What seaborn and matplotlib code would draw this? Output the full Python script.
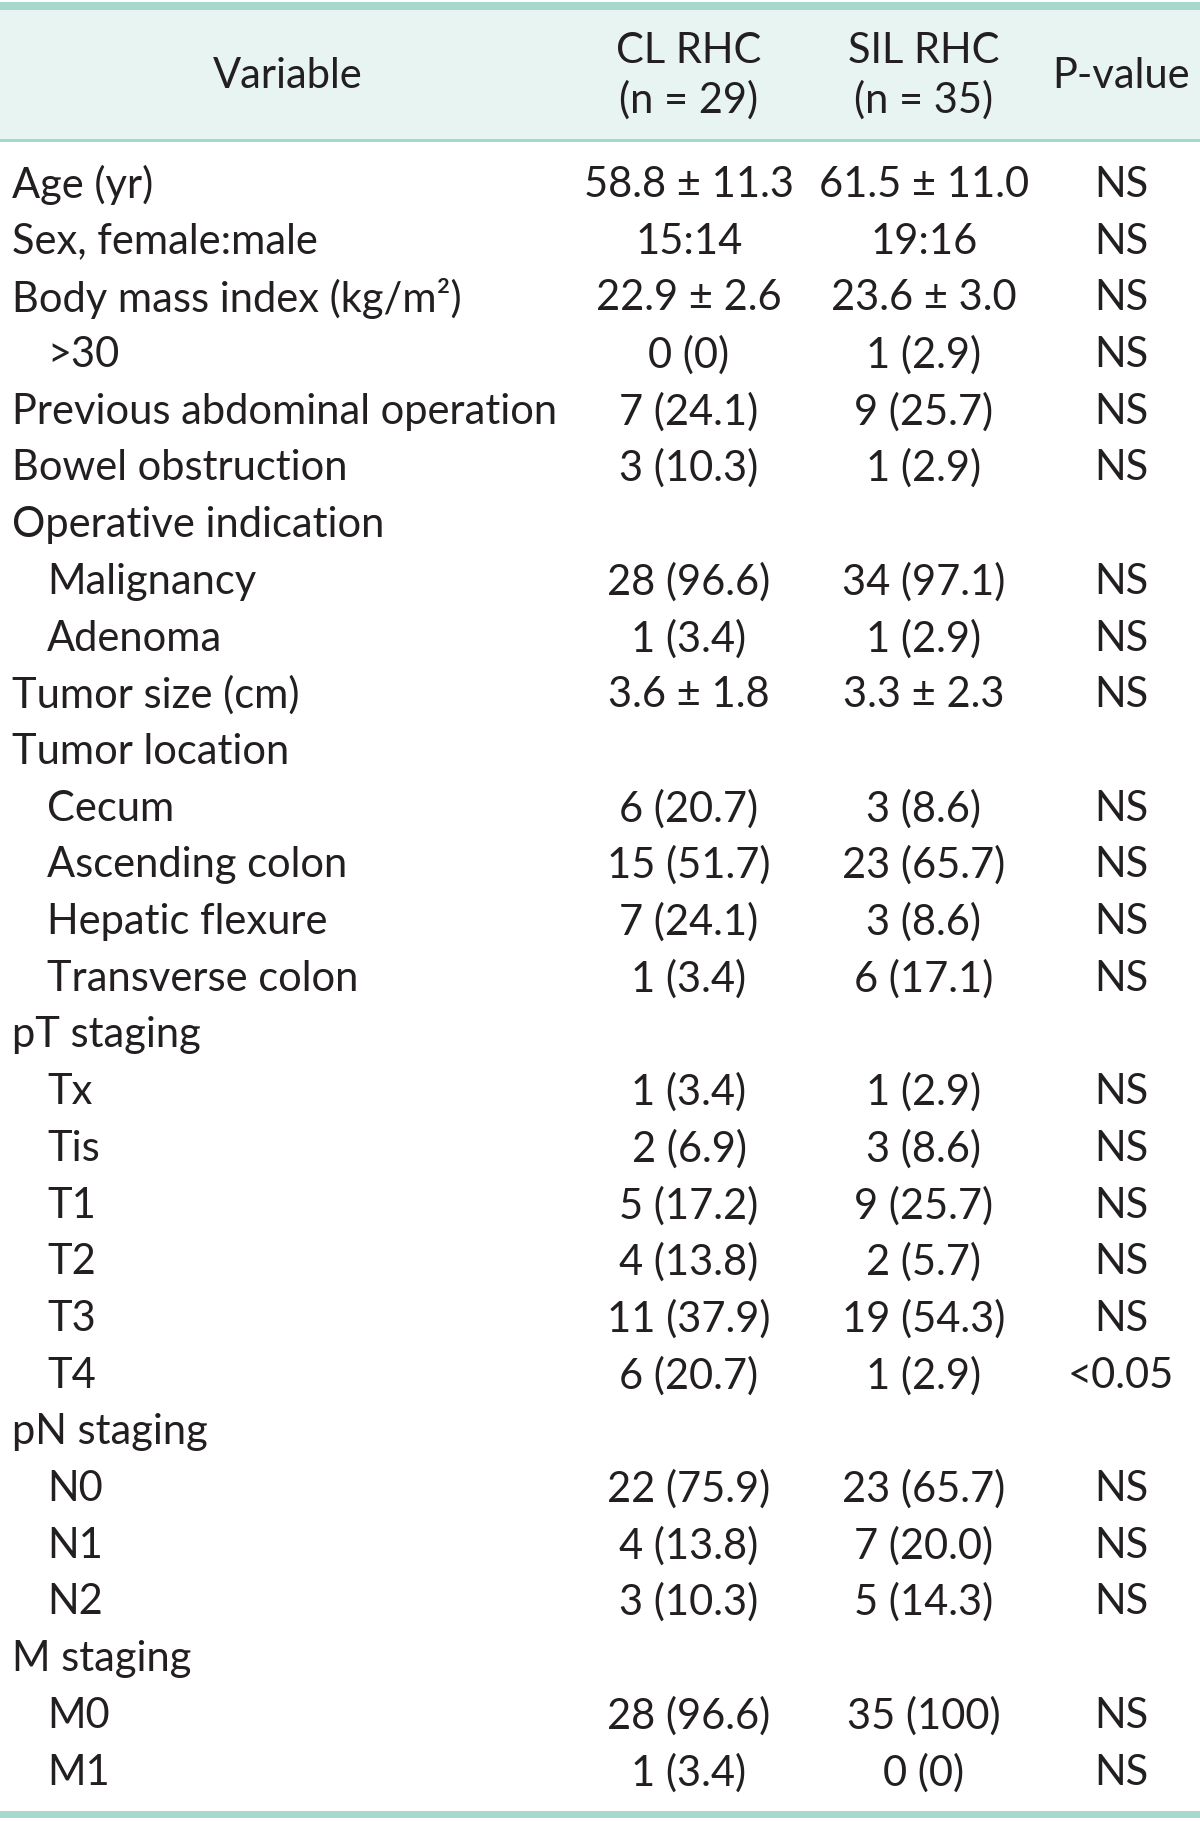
import matplotlib
matplotlib.use("Agg")
import matplotlib.pyplot as plt
import seaborn as sns

sns.set_theme(style="white")
plt.rcParams["font.family"] = ["Lato", "DejaVu Sans"]

# ==========================================
# table data
# ==========================================
headers = ["Variable", "CL RHC\n(n = 29)", "SIL RHC\n(n = 35)", "P-value"]

variables = [
    "Age (yr)", "Sex, female:male", "Body mass index (kg/m²)", ">30",
    "Previous abdominal operation", "Bowel obstruction", "Operative indication",
    "Malignancy", "Adenoma", "Tumor size (cm)", "Tumor location",
    "Cecum", "Ascending colon", "Hepatic flexure", "Transverse colon",
    "pT staging", "Tx", "Tis", "T1", "T2", "T3", "T4",
    "pN staging", "N0", "N1", "N2", "M staging", "M0", "M1",
]
indented = [
    False, False, False, True, False, False, False, True, True, False, False,
    True, True, True, True, False, True, True, True, True, True, True,
    False, True, True, True, False, True, True,
]
cl_rhc = [
    "58.8 ± 11.3", "15:14", "22.9 ± 2.6", "0 (0)", "7 (24.1)", "3 (10.3)", "",
    "28 (96.6)", "1 (3.4)", "3.6 ± 1.8", "",
    "6 (20.7)", "15 (51.7)", "7 (24.1)", "1 (3.4)",
    "", "1 (3.4)", "2 (6.9)", "5 (17.2)", "4 (13.8)", "11 (37.9)", "6 (20.7)",
    "", "22 (75.9)", "4 (13.8)", "3 (10.3)", "", "28 (96.6)", "1 (3.4)",
]
sil_rhc = [
    "61.5 ± 11.0", "19:16", "23.6 ± 3.0", "1 (2.9)", "9 (25.7)", "1 (2.9)", "",
    "34 (97.1)", "1 (2.9)", "3.3 ± 2.3", "",
    "3 (8.6)", "23 (65.7)", "3 (8.6)", "6 (17.1)",
    "", "1 (2.9)", "3 (8.6)", "9 (25.7)", "2 (5.7)", "19 (54.3)", "1 (2.9)",
    "", "23 (65.7)", "7 (20.0)", "5 (14.3)", "", "35 (100)", "0 (0)",
]
p_value = [
    "NS", "NS", "NS", "NS", "NS", "NS", "",
    "NS", "NS", "NS", "",
    "NS", "NS", "NS", "NS",
    "", "NS", "NS", "NS", "NS", "NS", "<0.05",
    "", "NS", "NS", "NS", "", "NS", "NS",
]

# ==========================================
# layout (pixel units of the 1200x1821 canvas)
# ==========================================
W, H = 1200, 1821
TEAL = "#a6d9cc"
HEAD_BG = "#e7f4f1"
INK = "#231f20"
FS = 30

row0, row_step = 185, 56.7
col_x = [288, 689, 924, 1121]
label_x, indent_x = 12, 47

fig = plt.figure(figsize=(W / 100, H / 100), dpi=100)
ax = fig.add_axes([0, 0, 1, 1])
ax.set_xlim(0, W)
ax.set_ylim(H, 0)
ax.axis("off")

# header band and rules
ax.axhspan(9, 140, color=HEAD_BG, lw=0)
ax.axhspan(2, 9.5, color=TEAL, lw=0)
ax.axhspan(139, 141.5, color=TEAL, lw=0)
ax.axhspan(1811, 1818, color=TEAL, lw=0)

for x, h in zip(col_x, headers):
    ax.text(x, 76, h, ha="center", va="center", fontsize=FS, color=INK,
            linespacing=1.3)

for i, name in enumerate(variables):
    y = row0 + row_step * i
    ax.text(indent_x if indented[i] else label_x, y, name, ha="left",
            va="center", fontsize=FS, color=INK)
    ax.text(col_x[1], y, cl_rhc[i], ha="center", va="center",
            fontsize=FS, color=INK)
    ax.text(col_x[2], y, sil_rhc[i], ha="center", va="center",
            fontsize=FS, color=INK)
    ax.text(col_x[3], y, p_value[i], ha="center", va="center",
            fontsize=FS, color=INK)

fig.savefig("out.png", dpi=100, facecolor="white")
